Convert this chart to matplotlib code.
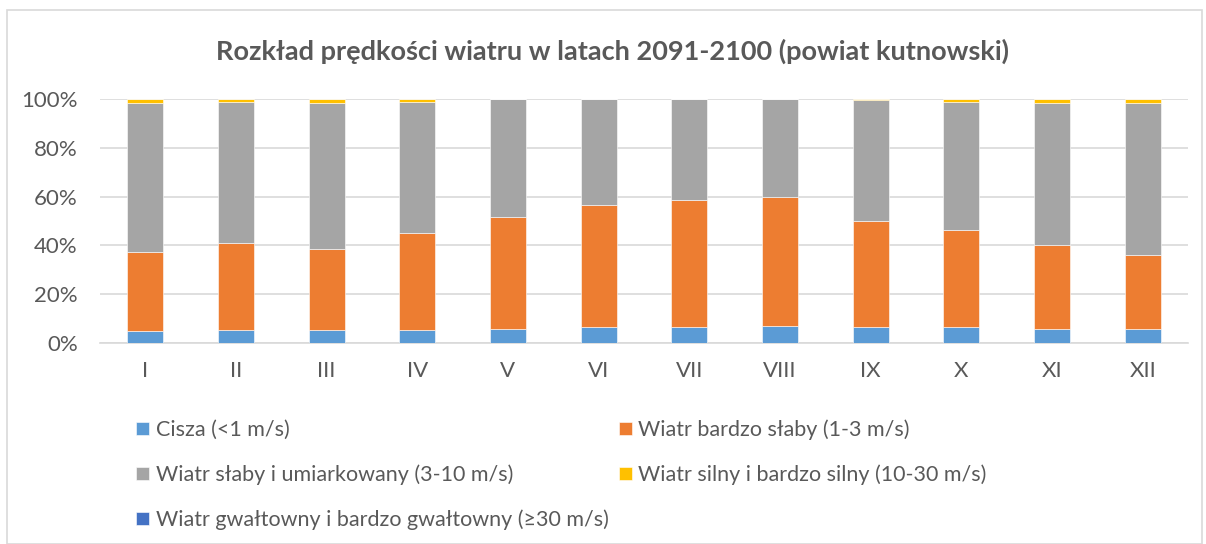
import numpy as np
import matplotlib
matplotlib.use("Agg")
import matplotlib.pyplot as plt
from matplotlib.patches import Rectangle
from matplotlib.ticker import PercentFormatter

plt.rcParams['font.family'] = ['Lato', 'DejaVu Sans']

# dane (%)
months = ['I', 'II', 'III', 'IV', 'V', 'VI', 'VII', 'VIII', 'IX', 'X', 'XI', 'XII']
cisza = [5.0, 5.5, 5.2, 5.2, 5.9, 6.4, 6.7, 7.0, 6.4, 6.4, 5.6, 5.7]
bardzo_slaby = [32.3, 35.4, 33.4, 40.0, 45.7, 50.2, 51.8, 52.7, 43.7, 40.0, 34.7, 30.4]
slaby_umiark = [61.2, 58.0, 59.6, 53.7, 48.4, 43.4, 41.5, 40.3, 49.6, 52.5, 57.9, 62.1]
silny = [1.5, 1.1, 1.8, 1.1, 0.0, 0.0, 0.0, 0.0, 0.3, 1.1, 1.8, 1.8]
gwaltowny = [0.0] * 12

series = [
    ('Cisza (<1 m/s)', cisza, '#5b9bd5'),
    ('Wiatr bardzo słaby (1-3 m/s)', bardzo_slaby, '#ed7d31'),
    ('Wiatr słaby i umiarkowany (3-10 m/s)', slaby_umiark, '#a5a5a5'),
    ('Wiatr silny i bardzo silny (10-30 m/s)', silny, '#ffc000'),
    ('Wiatr gwałtowny i bardzo gwałtowny (≥30 m/s)', gwaltowny, '#4472c4'),
]

text_col = '#595959'

fig = plt.figure(figsize=(12.06, 5.44), dpi=100)
ax = fig.add_axes([100 / 1206, 1 - 343 / 544, 1088 / 1206, 244 / 544])

x = np.arange(len(months))
bottom = np.zeros(len(months))
handles = []
for label, vals, col in series:
    vals = np.array(vals)
    b = ax.bar(x, vals, 0.4, bottom=bottom, color=col, edgecolor='white',
               linewidth=0.4, label=label, zorder=3)
    handles.append(b)
    bottom += vals

ax.set_xlim(-0.5, len(months) - 0.5)
ax.set_ylim(0, 100)
ax.set_yticks(np.arange(0, 101, 20))
ax.yaxis.set_major_formatter(PercentFormatter(decimals=0))
ax.set_xticks(x)
ax.set_xticklabels(months)
ax.grid(axis='y', color='#d9d9d9', linewidth=1.2, zorder=0)
for s in ['top', 'right', 'left']:
    ax.spines[s].set_visible(False)
ax.spines['bottom'].set_color('#d9d9d9')
ax.spines['bottom'].set_linewidth(1.2)
ax.tick_params(axis='both', length=0, labelsize=16, labelcolor=text_col)
ax.tick_params(axis='x', pad=13)
ax.tick_params(axis='y', pad=16)

fig.text(613 / 1206, 1 - 51 / 544, 'Rozkład prędkości wiatru w latach 2091-2100 (powiat kutnowski)',
         ha='center', va='center', fontsize=19.5, fontweight='bold', color=text_col)

# legenda: kolumny jak w Excelu
order = [0, 2, 4, 1, 3]
leg = fig.legend([handles[i] for i in order], [series[i][0] for i in order],
                 ncol=2, loc='upper left', bbox_to_anchor=(117 / 1206, 1 - 400 / 544),
                 frameon=False, fontsize=15.5, handlelength=0.6, handleheight=0.6,
                 handletextpad=0.3, columnspacing=0.48, labelspacing=1.14,
                 labelcolor=text_col)

fig.patches.append(Rectangle((7 / 1206, 0), 1195 / 1206, 1 - 10 / 544,
                             transform=fig.transFigure, fill=False,
                             edgecolor='#d9d9d9', linewidth=1.2))

fig.savefig('out.png', dpi=100, facecolor='white')
